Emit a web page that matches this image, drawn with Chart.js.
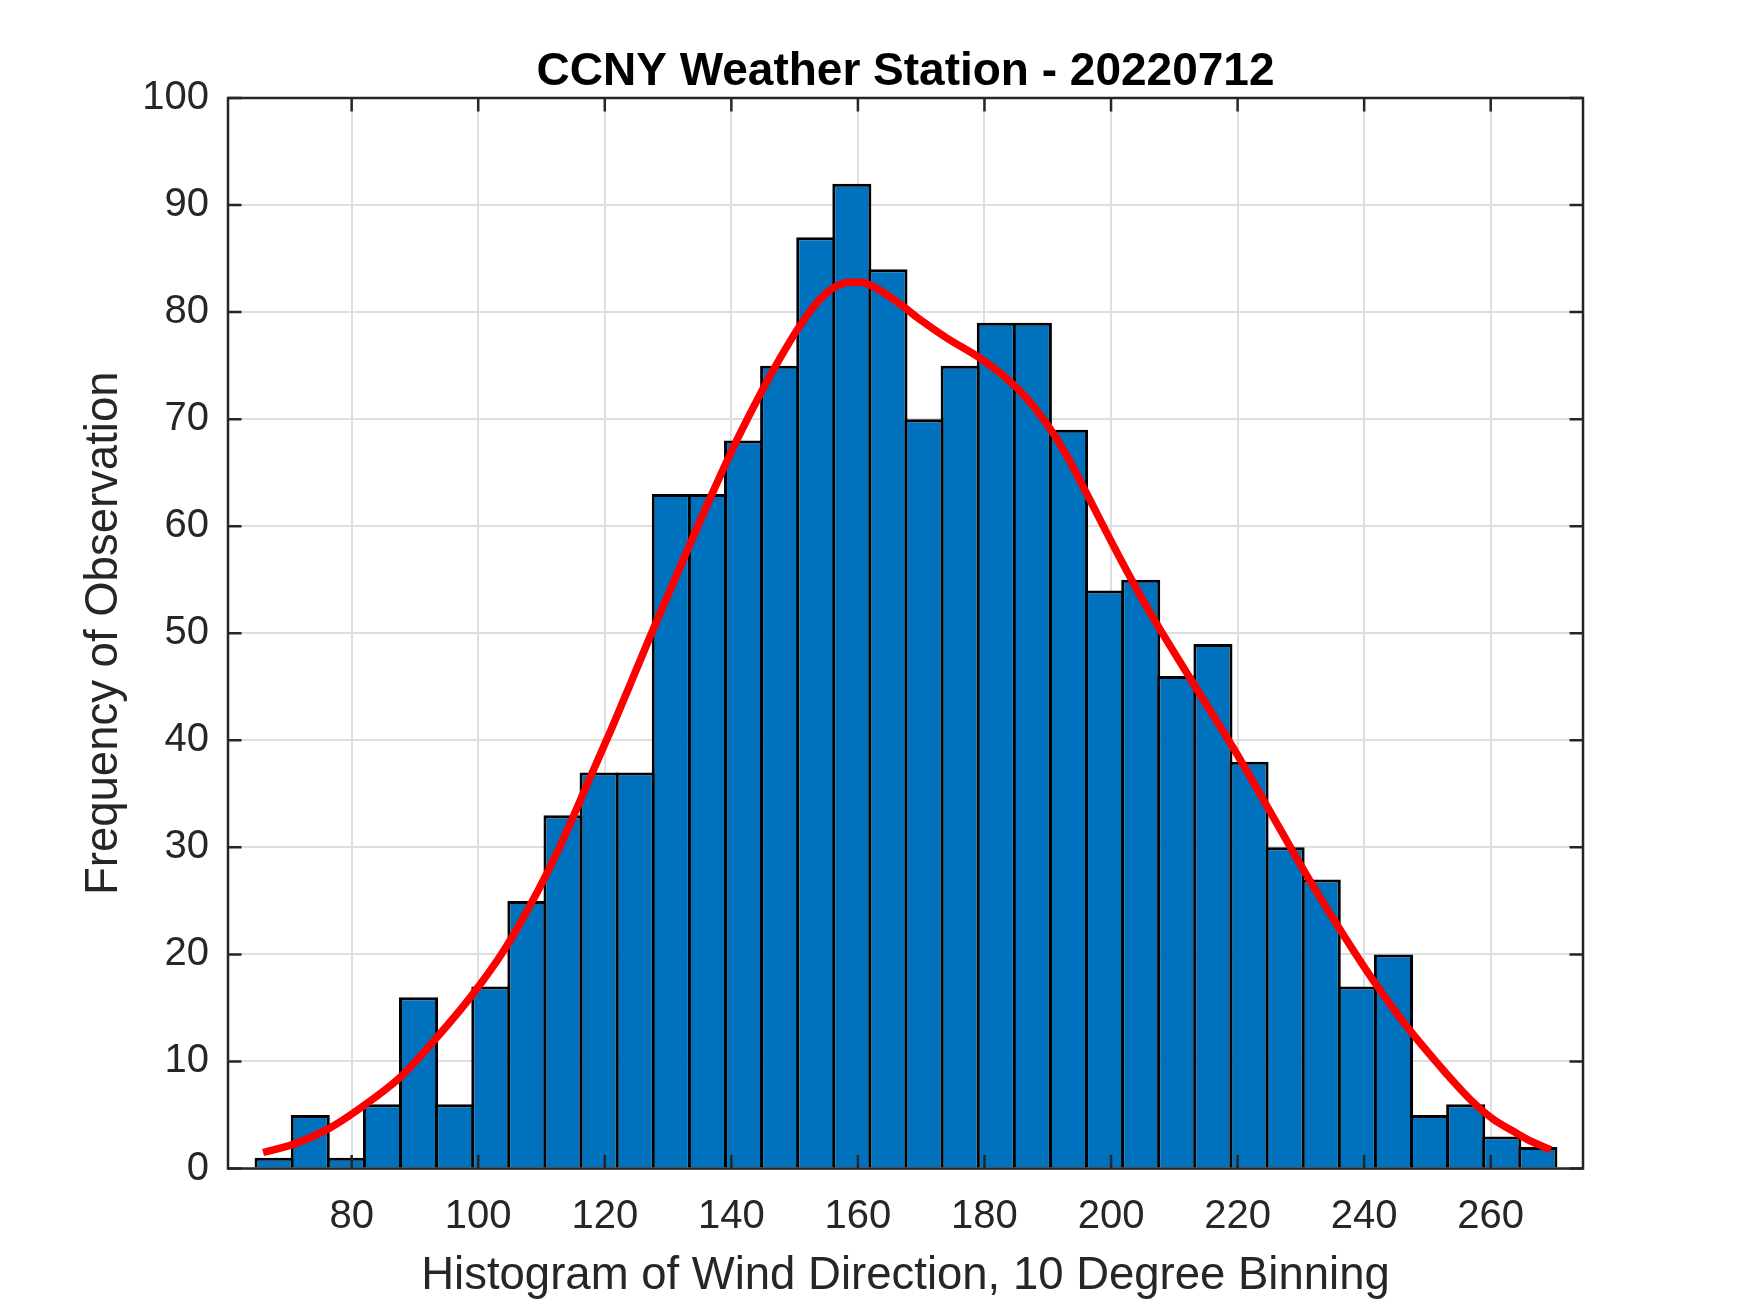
<!DOCTYPE html>
<html>
<head>
<meta charset="utf-8">
<script src="https://cdn.jsdelivr.net/npm/chart.js@4.4.0/dist/chart.umd.min.js"></script>
<style>
  html, body { margin: 0; padding: 0; background: #fff; }
  #wrap { width: 1750px; height: 1313px; }
</style>
</head>
<body>
<div id="wrap"><canvas id="chart"></canvas></div>
<script>
// Wind direction histogram, 36 bins (bin centres in degrees)
const binCenters = [67.75, 73.46, 79.16, 84.87, 90.57, 96.28, 101.99, 107.69, 113.40, 119.10,
    124.81, 130.51, 136.22, 141.93, 147.63, 153.34, 159.04, 164.75, 170.45, 176.16,
    181.87, 187.57, 193.28, 198.98, 204.69, 210.39, 216.10, 221.81, 227.51, 233.22,
    238.92, 244.63, 250.33, 256.04, 261.75, 267.45];
const binCounts = [1, 5, 1, 6, 16, 6, 17, 25, 33, 37,
    37, 63, 63, 68, 75, 87, 92, 84, 70, 75,
    79, 79, 69, 54, 55, 46, 49, 38, 30, 27,
    17, 20, 5, 6, 3, 2];

// Smoothed fit (red curve)
const fitX = [66.0, 71.0, 76.3, 81.5, 87.8, 93.1, 98.9, 104.2, 109.4, 113.0,
    117.6, 121.3, 124.0, 127.1, 130.3, 133.0, 137.4, 141.0, 144.7, 147.7,
    150.8, 154.0, 156.5, 158.7, 160.5, 162.4, 166.1, 169.8, 174.0, 179.3,
    183.5, 186.6, 189.8, 193.0, 196.1, 200.9, 205.5, 212.9, 219.3, 224.5,
    230.9, 236.1, 241.4, 246.7, 251.9, 254.6, 257.2, 260.4, 263.5, 266.5,
    269.5];
const fitY = [1.5, 2.3, 3.7, 5.7, 8.6, 12.0, 16.1, 20.5, 25.9, 30.2,
    36.4, 41.4, 45.2, 49.6, 54.0, 57.7, 63.6, 68.2, 72.5, 75.7,
    78.7, 81.2, 82.4, 82.8, 82.8, 82.4, 81.0, 79.3, 77.6, 75.7,
    73.8, 72.0, 69.6, 66.6, 63.1, 57.6, 52.6, 45.4, 39.3, 34.0,
    27.4, 22.4, 17.6, 13.3, 9.6, 7.8, 6.2, 4.6, 3.5, 2.5,
    1.75];

const xTicks = [80, 100, 120, 140, 160, 180, 200, 220, 240, 260];
const yTicks = [0, 10, 20, 30, 40, 50, 60, 70, 80, 90, 100];

const fontFamily = "'Liberation Sans', Arial, Helvetica, sans-serif";
const axisColor = '#262626';
const gridColor = '#dedede';

// MATLAB style box with inward ticks on all four sides
const boxPlugin = {
    id: 'box',
    afterDraw(chart) {
        const {ctx, chartArea: a, scales} = chart;
        const t = 13.5;
        ctx.save();
        ctx.strokeStyle = axisColor;
        ctx.lineWidth = 2.5;
        ctx.beginPath();
        xTicks.forEach(v => {
            const px = scales.x.getPixelForValue(v);
            ctx.moveTo(px, a.bottom); ctx.lineTo(px, a.bottom - t);
            ctx.moveTo(px, a.top); ctx.lineTo(px, a.top + t);
        });
        yTicks.forEach(v => {
            const py = scales.y.getPixelForValue(v);
            ctx.moveTo(a.left, py); ctx.lineTo(a.left + t, py);
            ctx.moveTo(a.right, py); ctx.lineTo(a.right - t, py);
        });
        ctx.stroke();
        ctx.strokeRect(a.left, a.top, a.right - a.left, a.bottom - a.top);
        ctx.restore();
    }
};

const ctx = document.getElementById('chart');

new Chart(ctx, {
    type: 'bar',
    data: {
        datasets: [
            {
                type: 'line',
                data: fitX.map((x, i) => ({x: x, y: fitY[i]})),
                borderColor: '#ff0000',
                borderWidth: 7.5,
                pointRadius: 0,
                cubicInterpolationMode: 'monotone',
                fill: false,
                order: 0
            },
            {
                type: 'bar',
                data: binCenters.map((x, i) => ({x: x, y: binCounts[i]})),
                backgroundColor: '#0072BD',
                borderColor: '#000000',
                borderWidth: 3,
                borderSkipped: 'start',
                barPercentage: 1.083,
                categoryPercentage: 1,
                order: 1
            }
        ]
    },
    options: {
        responsive: true,
        maintainAspectRatio: false,
        animation: false,
        layout: {
            padding: {left: 0, top: 0, right: 167, bottom: 0}
        },

        //Scales
        scales: {
            x: {
                type: 'linear',
                position: 'bottom',
                min: 60.46,
                max: 274.58,
                offset: false,
                afterBuildTicks: s => { s.ticks = xTicks.map(v => ({value: v})); },
                afterFit: s => { s.height = 144.5; },
                grid: {color: gridColor, lineWidth: 2, drawTicks: false, offset: false},
                border: {display: false},
                ticks: {
                    color: axisColor,
                    padding: 24,
                    maxRotation: 0,
                    font: {family: fontFamily, size: 40}
                },
                title: {
                    display: true,
                    text: 'Histogram of Wind Direction, 10 Degree Binning',
                    color: axisColor,
                    font: {family: fontFamily, size: 45.5},
                    padding: {top: 8, bottom: 9}
                }
            },
            xTop: {
                type: 'linear',
                position: 'top',
                afterFit: s => { s.height = 98; },
                grid: {display: false, drawTicks: false},
                border: {display: false},
                ticks: {display: false},
                title: {
                    display: true,
                    text: 'CCNY Weather Station - 20220712',
                    color: '#000000',
                    font: {family: fontFamily, size: 46, weight: 'bold'},
                    padding: {top: 44.5, bottom: 0}
                }
            },
            y: {
                type: 'linear',
                min: 0,
                max: 100,
                afterBuildTicks: s => { s.ticks = yTicks.map(v => ({value: v})); },
                afterFit: s => { s.width = 228; },
                grid: {color: gridColor, lineWidth: 2, drawTicks: false},
                border: {display: false},
                ticks: {
                    color: axisColor,
                    padding: 19,
                    font: {family: fontFamily, size: 40}
                },
                title: {
                    display: true,
                    text: 'Frequency of Observation',
                    color: axisColor,
                    font: {family: fontFamily, size: 45.5},
                    padding: {top: 77, bottom: 11}
                }
            }
        },

        plugins: {
            legend: {display: false},
            tooltip: {enabled: false},
            title: {display: false}
        }
    },
    plugins: [boxPlugin]
});
</script>
</body>
</html>
